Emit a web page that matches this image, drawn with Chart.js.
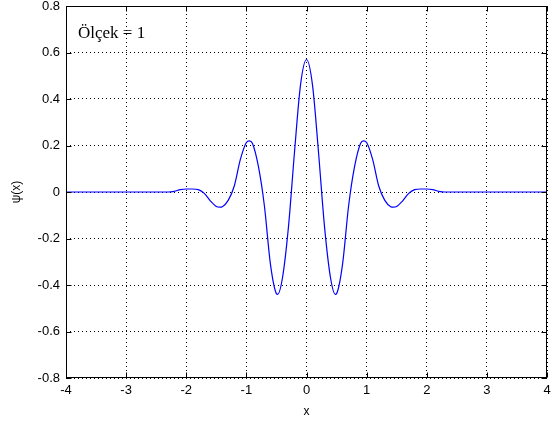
<!DOCTYPE html>
<html>
<head>
<meta charset="utf-8">
<script src="https://cdn.jsdelivr.net/npm/chart.js@4/dist/chart.umd.min.js"></script>
<style>
  html, body { margin: 0; padding: 0; background: #fff; }
  #wrap { width: 552px; height: 427px; }
</style>
</head>
<body>
<div id="wrap"><canvas id="c" width="552" height="427"></canvas></div>
<script>
// 図から読み取った値
const xValues = [-4, -2.4, -2.3, -2.2, -2.1, -2.0, -1.9, -1.8, -1.7, -1.6, -1.5, -1.44, -1.4, -1.3, -1.2, -1.1, -1.0, -0.95, -0.9, -0.8, -0.7, -0.6, -0.5, -0.48, -0.4, -0.3, -0.2, -0.1,
    0, 0.1, 0.2, 0.3, 0.4, 0.48, 0.5, 0.6, 0.7, 0.8, 0.9, 0.95, 1.0, 1.1, 1.2, 1.3, 1.4, 1.44, 1.5, 1.6, 1.7, 1.8, 1.9, 2.0, 2.1, 2.2, 2.3, 2.4, 4];
const psiValues = [0, 0, 0, 0.003, 0.01, 0.013, 0.013, 0.01, -0.006, -0.038, -0.062, -0.065, -0.063, -0.035, 0.027, 0.14, 0.213, 0.22, 0.21, 0.11, -0.06, -0.31, -0.437, -0.44, -0.37, -0.15, 0.17, 0.46,
    0.57, 0.46, 0.17, -0.15, -0.37, -0.44, -0.437, -0.31, -0.06, 0.11, 0.21, 0.22, 0.213, 0.14, 0.027, -0.035, -0.063, -0.065, -0.062, -0.038, -0.006, 0.01, 0.013, 0.013, 0.01, 0.003, 0, 0, 0];
const xTicks = [-4, -3, -2, -1, 0, 1, 2, 3, 4];
const yTicks = [-0.8, -0.6, -0.4, -0.2, 0, 0.2, 0.4, 0.6, 0.8];
const scaleText = 'Ölçek = 1';

const points = xValues.map((x, i) => ({ x: x, y: psiValues[i] }));

// 枠と内向きの目盛り
const framePlugin = {
    id: 'frame',
    afterDraw(chart) {
        const ctx = chart.ctx;
        const a = chart.chartArea;
        const sx = chart.scales.x, sy = chart.scales.y;
        ctx.save();
        ctx.strokeStyle = '#000';
        ctx.lineWidth = 1;
        const l = Math.round(a.left) + 0.5, r = Math.round(a.right) - 0.5;
        const t = Math.round(a.top) + 0.5, b = Math.round(a.bottom) - 0.5;
        ctx.strokeRect(l, t, r - l, b - t);
        ctx.beginPath();
        xTicks.forEach(v => {
            const px = Math.round(sx.getPixelForValue(v)) + 0.5;
            ctx.moveTo(px, b); ctx.lineTo(px, b - 5);
            ctx.moveTo(px, t); ctx.lineTo(px, t + 5);
        });
        yTicks.forEach(v => {
            const py = Math.round(sy.getPixelForValue(v)) + 0.5;
            ctx.moveTo(l, py); ctx.lineTo(l + 5, py);
            ctx.moveTo(r, py); ctx.lineTo(r - 5, py);
        });
        ctx.stroke();
        // 注記
        ctx.fillStyle = '#000';
        ctx.font = '17px "Liberation Serif", serif';
        ctx.textBaseline = 'middle';
        ctx.fillText(scaleText, sx.getPixelForValue(-3.8), sy.getPixelForValue(0.68));
        ctx.restore();
    }
};

new Chart(document.getElementById('c'), {
    type: 'scatter',
    data: {
        datasets: [{
            data: points,
            showLine: true,
            borderColor: '#0000ff',
            borderWidth: 1.2,
            pointRadius: 0,
            cubicInterpolationMode: 'monotone',
            fill: false
        }]
    },
    options: {
        responsive: false,
        animation: false,
        devicePixelRatio: 1,
        layout: { padding: { top: 6, right: 5, left: 0, bottom: 0 } },
        plugins: { legend: { display: false }, tooltip: { enabled: false } },
        scales: {
            x: {
                type: 'linear',
                min: -4, max: 4,
                afterBuildTicks: s => { s.ticks = xTicks.map(v => ({ value: v })); },
                afterFit: s => { s.height = 49; s.paddingLeft = 0; s.paddingRight = 0; },
                grid: { color: '#000', drawTicks: false, lineWidth: 1 },
                border: { display: false, dash: [1, 3] },
                ticks: { color: '#000', padding: 5, maxRotation: 0, font: { family: '"Liberation Sans", Arial, sans-serif', size: 13 } },
                title: { display: true, text: 'x', color: '#000', padding: { top: 2, bottom: 8 }, font: { family: '"Liberation Sans", Arial, sans-serif', size: 12 } }
            },
            y: {
                type: 'linear',
                min: -0.8, max: 0.8,
                afterBuildTicks: s => { s.ticks = yTicks.map(v => ({ value: v })); },
                afterFit: s => { s.width = 66; s.paddingTop = 0; s.paddingBottom = 0; },
                grid: { color: '#000', drawTicks: false, lineWidth: 1 },
                border: { display: false, dash: [1, 3] },
                ticks: {
                    color: '#000', padding: 6,
                    font: { family: '"Liberation Sans", Arial, sans-serif', size: 13 },
                    callback: v => (Math.abs(v) < 1e-9 ? '0' : String(Math.round(v * 10) / 10))
                },
                title: { display: true, text: 'ψ(x)', color: '#000', padding: { top: 9, bottom: 0 }, font: { family: '"Liberation Sans", Arial, sans-serif', size: 12 } }
            }
        }
    },
    plugins: [framePlugin]
});
</script>
</body>
</html>
